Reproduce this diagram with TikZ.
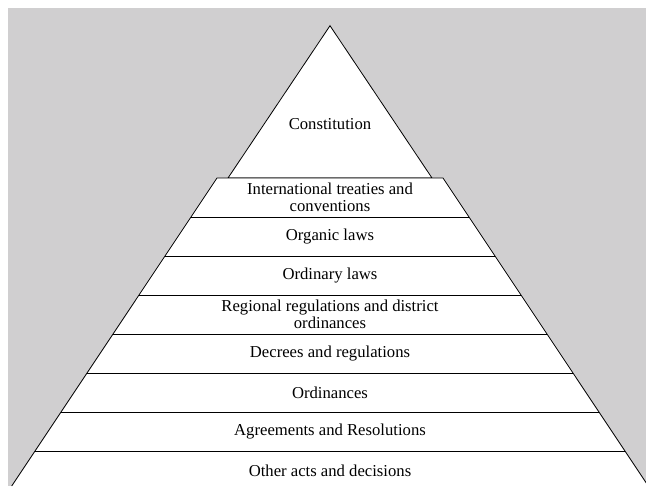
\documentclass[tikz,border=0pt]{standalone}
\usepackage{fontspec}
\setmainfont{Liberation Serif}
\definecolor{backgray}{RGB}{208,207,208}
\tikzset{
  layer/.style = {draw=black, line width=0.6pt},
  lawtext/.style = {align=center, inner sep=0pt, text=black, font=\fontsize{12.5}{13}\selectfont},
}

\begin{document}
\begin{tikzpicture}[x=0.75pt, y=-0.75pt]
\useasboundingbox (0,0) rectangle (646,486);
\fill[backgray] (8,8) rectangle (646,486);

% top of the pyramid
\coordinate (apex) at (330,25.7);
\coordinate (tl) at (228,178);
\coordinate (tr) at (432,178);
\filldraw[layer, fill=white] (apex) -- (tl) -- (tr) -- cycle;
\node [lawtext] (constitution) at (330,124) {Constitution};

% lower part, cut into bands of 39px
\foreach \i in {0,...,8} {
  \pgfmathsetmacro{\yy}{178+39*\i}
  \pgfmathsetmacro{\xl}{217-26*\i}
  \pgfmathsetmacro{\xr}{443+26*\i}
  \coordinate (l\i) at (\xl,\yy);
  \coordinate (r\i) at (\xr,\yy);
}
\coordinate (lb) at (11.7,486);
\coordinate (rb) at (648.3,486);
\fill[white] (l0) -- (r0) -- (rb) -- (lb) -- cycle;
\draw[layer] (lb) -- (l0) -- (r0) -- (rb);
\foreach \i in {1,...,8}
  \draw[layer] (l\i) -- (r\i);

\node [lawtext] (treaties) at (330,197.5) {International treaties and\\conventions};
\node [lawtext] (organic) at (330,236.5) {Organic laws};
\node [lawtext] (ordinary) at (330,275.5) {Ordinary laws};
\node [lawtext] (regional) at (330,314.5) {Regional regulations and district\\ordinances};
\node [lawtext] (decrees) at (330,353.5) {Decrees and regulations};
\node [lawtext] (ordinances) at (330,392.5) {Ordinances};
\node [lawtext] (agreements) at (330,431.5) {Agreements and Resolutions};
\node [lawtext] (otheracts) at (330,470.5) {Other acts and decisions};
\end{tikzpicture}
\end{document}
